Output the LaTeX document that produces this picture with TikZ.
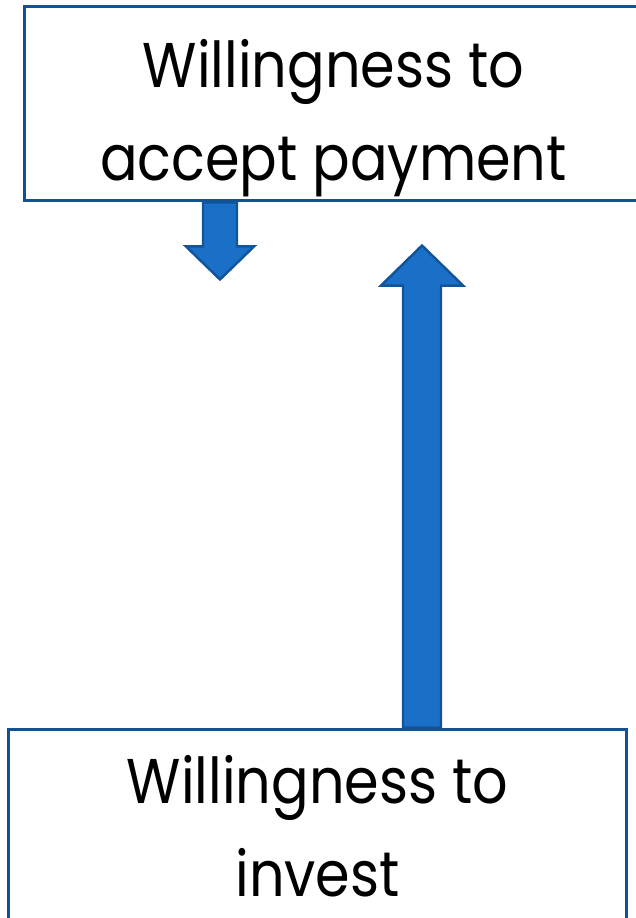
\documentclass[tikz,border=0pt]{standalone}
\usepackage{fontspec}
\setmainfont[FakeStretch=0.88]{Poppins}
\usetikzlibrary{backgrounds}
\definecolor{boxblue}{RGB}{16,82,148}
\definecolor{arrowfill}{RGB}{26,112,198}
\definecolor{arrowline}{RGB}{18,84,156}

\begin{document}
\begin{tikzpicture}[x=0.02cm, y=-0.02cm,
box/.style={draw=boxblue, line width=1.7pt, fill=white, inner sep=0pt,
  minimum width=12.38cm, minimum height=3.9cm},
boxtext/.style={align=center, inner sep=0pt, font=\fontsize{36}{53}\selectfont},
blockarrow/.style={draw=arrowline, line width=1.4pt, fill=arrowfill, line join=miter}]
\useasboundingbox (0,0) rectangle (635,918);
\node[box] (accept) at (333.5,103.5) {};
\node[boxtext] (accepttext) at ([yshift=-0.3cm]accept.center) {Willingness to\\accept payment};
\node[box] (invest) at (317.5,826.5) {};
\node[boxtext] (investtext) at ([yshift=0.0cm]invest.center) {Willingness to\\invest};
% block arrows between the two boxes
\begin{scope}[on background layer]
\path (accept.south -| 220,0) coordinate (dntail);
\path (invest.north -| 422,0) coordinate (uptail);
\draw[blockarrow] (dntail) ++(-17,0) -- ++(0,44) -- ++(-17,0) -- ++(34,33) -- ++(34,-33) -- ++(-17,0) -- ++(0,-44) -- cycle;
\draw[blockarrow] (uptail) ++(-19,0) -- ++(0,-442) -- ++(-22,0) -- ++(41,-40) -- ++(41,40) -- ++(-22,0) -- ++(0,442) -- cycle;
\end{scope}
\end{tikzpicture}
\end{document}
